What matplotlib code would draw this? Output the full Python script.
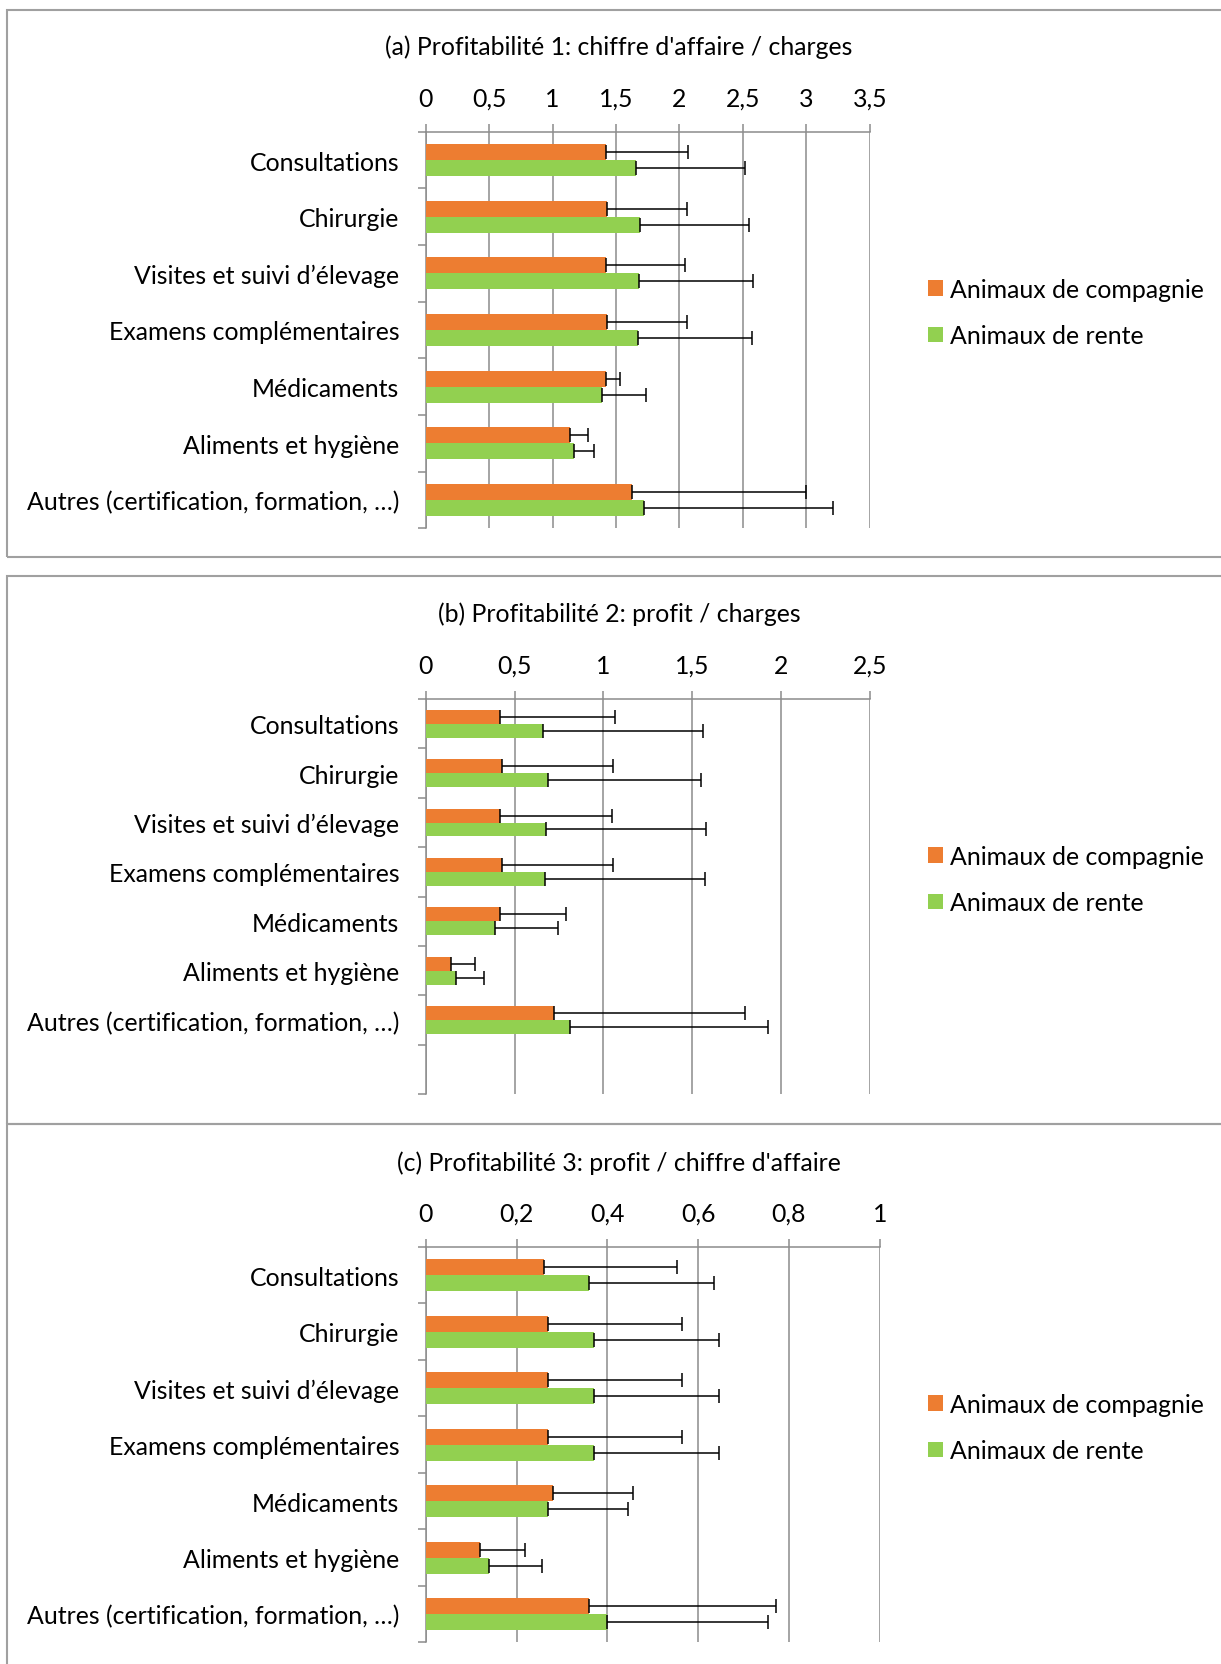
import matplotlib
matplotlib.use("Agg")
import matplotlib.pyplot as plt
import numpy as np
from matplotlib.patches import Rectangle, Patch

plt.rcParams['font.family'] = ['Lato', 'DejaVu Sans']

categories = ["Consultations", "Chirurgie", "Visites et suivi d’élevage",
              "Examens complémentaires", "Médicaments", "Aliments et hygiène",
              "Autres (certification, formation, …)"]
series_names = ["Animaux de compagnie", "Animaux de rente"]

titles = ["(a) Profitabilité 1: chiffre d'affaire / charges",
          "(b) Profitabilité 2: profit / charges",
          "(c) Profitabilité 3: profit / chiffre d'affaire"]

# (a)
a_comp = [1.42, 1.43, 1.42, 1.43, 1.42, 1.14, 1.63]
a_comp_err = [0.645, 0.627, 0.627, 0.627, 0.114, 0.137, 1.37]
a_rente = [1.66, 1.69, 1.68, 1.67, 1.39, 1.17, 1.72]
a_rente_err = [0.86, 0.86, 0.90, 0.90, 0.35, 0.16, 1.49]
a_ticks = [0, 0.5, 1, 1.5, 2, 2.5, 3, 3.5]
a_ticklabels = ["0", "0,5", "1", "1,5", "2", "2,5", "3", "3,5"]

# (b)
b_comp = [0.42, 0.43, 0.42, 0.43, 0.42, 0.14, 0.72]
b_comp_err = [0.646, 0.627, 0.627, 0.627, 0.37, 0.137, 1.08]
b_rente = [0.66, 0.69, 0.68, 0.67, 0.39, 0.17, 0.81]
b_rente_err = [0.90, 0.86, 0.90, 0.90, 0.353, 0.157, 1.118]
b_ticks = [0, 0.5, 1, 1.5, 2, 2.5]
b_ticklabels = ["0", "0,5", "1", "1,5", "2", "2,5"]

# (c)
c_comp = [0.26, 0.27, 0.27, 0.27, 0.28, 0.12, 0.36]
c_comp_err = [0.294, 0.295, 0.295, 0.295, 0.176, 0.098, 0.412]
c_rente = [0.36, 0.37, 0.37, 0.37, 0.27, 0.14, 0.40]
c_rente_err = [0.274, 0.275, 0.275, 0.275, 0.176, 0.117, 0.353]
c_ticks = [0, 0.2, 0.4, 0.6, 0.8, 1]
c_ticklabels = ["0", "0,2", "0,4", "0,6", "0,8", "1"]

ORANGE = "#ED7D31"
GREEN = "#92D050"
GRID = "#8c8c8c"
FS = 17.9

W, H = 1221, 1665
fig = plt.figure(figsize=(W / 100, H / 100), dpi=100)

def fx(x):
    return x / W

def fy(y):
    return 1 - y / H

# frames
for (y0, y1) in [(11, 558), (577, 1125), (1125, 1700)]:
    fig.patches.append(Rectangle((fx(7), fy(y1)), fx(1300 - 7), fy(y0) - fy(y1),
                                 transform=fig.transFigure, fill=False,
                                 edgecolor="#a0a0a0", lw=1.5, zorder=0))

panels = [
    dict(comp=a_comp, ce=a_comp_err, rente=a_rente, re=a_rente_err,
         ticks=a_ticks, tl=a_ticklabels, box=(425.7, 869.7, 132.7, 529.3), nslots=7,
         title_y=47, leg_y=313.5),
    dict(comp=b_comp, ce=b_comp_err, rente=b_rente, re=b_rente_err,
         ticks=b_ticks, tl=b_ticklabels, box=(425.7, 869.7, 700, 1095.3), nslots=8,
         title_y=614, leg_y=880.5),
    dict(comp=c_comp, ce=c_comp_err, rente=c_rente, re=c_rente_err,
         ticks=c_ticks, tl=c_ticklabels, box=(425.7, 879.7, 1248, 1643.3), nslots=7,
         title_y=1163, leg_y=1428.5),
]

bh = 0.282
for k, p in enumerate(panels):
    l, r, t, b = p["box"]
    ax = fig.add_axes([fx(l), fy(b), fx(r - l), fy(t) - fy(b)])
    y = np.arange(len(categories))
    ax.barh(y - bh / 2, p["comp"], height=bh, color=ORANGE, zorder=3)
    ax.barh(y + bh / 2, p["rente"], height=bh, color=GREEN, zorder=3)
    ax.errorbar(p["comp"], y - bh / 2, xerr=[np.zeros(len(y)), p["ce"]], fmt='none',
                ecolor='black', elinewidth=1.1, capsize=4.7, capthick=1.1, zorder=4)
    ax.errorbar(p["rente"], y + bh / 2, xerr=[np.zeros(len(y)), p["re"]], fmt='none',
                ecolor='black', elinewidth=1.1, capsize=4.7, capthick=1.1, zorder=4)
    ax.set_xlim(p["ticks"][0], p["ticks"][-1])
    ax.set_ylim(p["nslots"] - 0.5, -0.5)
    ax.xaxis.tick_top()
    ax.set_xticks(p["ticks"])
    ax.set_xticklabels(p["tl"], fontsize=FS)
    ax.tick_params(axis='x', direction='out', length=5.8, width=1.1, color=GRID, pad=10)
    ax.grid(axis='x', color=GRID, lw=1.1, zorder=0)
    ax.set_axisbelow(True)
    ax.set_yticks(y)
    ax.set_yticklabels(categories, fontsize=FS)
    ax.tick_params(axis='y', which='major', length=0, pad=19)
    ax.set_yticks(np.arange(p["nslots"] + 1) - 0.5, minor=True)
    ax.tick_params(axis='y', which='minor', direction='out', length=5.8, width=1.1, color=GRID)
    for s in ['right', 'bottom']:
        ax.spines[s].set_visible(False)
    for s in ['top', 'left']:
        ax.spines[s].set_color(GRID)
        ax.spines[s].set_linewidth(1.1)
    fig.text(fx(619), fy(p["title_y"]), titles[k], ha='center', va='center', fontsize=FS)
    handles = [Patch(facecolor=ORANGE, edgecolor='none'), Patch(facecolor=GREEN, edgecolor='none')]
    fig.legend(handles, series_names, loc='center left',
               bbox_to_anchor=(fx(928), fy(p["leg_y"])), frameon=False, fontsize=FS,
               handlelength=0.6, handleheight=0.6, handletextpad=0.3,
               labelspacing=0.95, borderpad=0, borderaxespad=0)

fig.savefig("out.png", dpi=100)
